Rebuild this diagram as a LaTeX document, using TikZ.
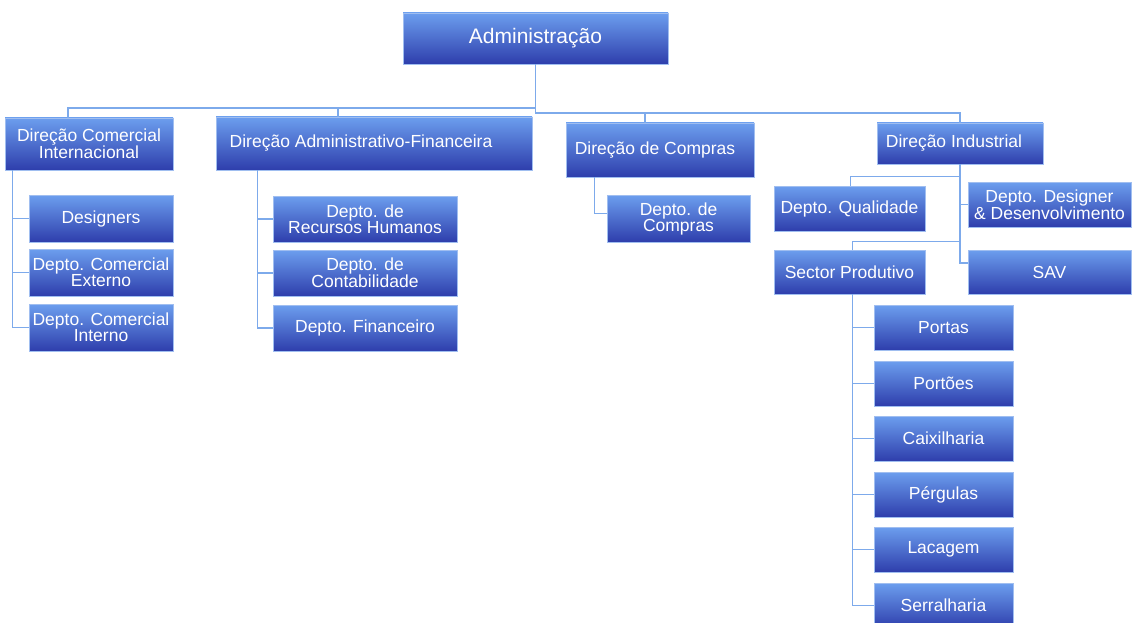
\documentclass[tikz,border=0pt]{standalone}
\usepackage{fontspec}
\setmainfont{Liberation Sans}
\usepackage{tikz}

\definecolor{azulclaro}{RGB}{108,158,238}
\definecolor{azulescuro}{RGB}{46,62,172}
\definecolor{borda}{RGB}{160,190,240}
\definecolor{linha}{RGB}{125,170,235}

\tikzset{
  caixa/.style={rectangle, draw=borda, line width=0.8pt, top color=azulclaro, bottom color=azulescuro,
    text=white, inner sep=0pt, align=center, font=\fontsize{17.5}{16}\selectfont},
  liga/.style={draw=linha, line width=1.6pt}
}

\begin{document}
\begin{tikzpicture}[x=1pt,y=-1pt]
\useasboundingbox (0,0) rectangle (1132,623);

\node[caixa, minimum width=265pt, minimum height=51pt, font=\fontsize{21}{21}\selectfont] (adm) at (535.5,38.5) {Administração};

\node[caixa, minimum width=168pt, minimum height=52pt] (dci) at (89,144) {Direção Comercial\\Internacional};
\node[caixa, minimum width=316pt, minimum height=53pt] (daf) at (374,143.5) {Direção Administrativo-Financeira\hspace*{26pt}};
\node[caixa, minimum width=188pt, minimum height=54pt] (dcomp) at (660,150) {Direção de Compras\hspace*{10pt}};
\node[caixa, minimum width=166pt, minimum height=41pt] (dind) at (960,143.5) {Direção Industrial\hspace*{12pt}};

\node[caixa, minimum width=144pt, minimum height=47pt] (des) at (101,218.5) {Designers};
\node[caixa, minimum width=144pt, minimum height=47pt] (dcext) at (101,272.5) {Depto. Comercial\\Externo};
\node[caixa, minimum width=144pt, minimum height=47pt] (dcint) at (101,327.5) {Depto. Comercial\\Interno};

\node[caixa, minimum width=184pt, minimum height=46pt] (drh) at (365,219) {Depto. de\\Recursos Humanos};
\node[caixa, minimum width=184pt, minimum height=46pt] (dcont) at (365,273) {Depto. de\\Contabilidade};
\node[caixa, minimum width=184pt, minimum height=46pt] (dfin) at (365,328) {Depto. Financeiro};

\node[caixa, minimum width=143pt, minimum height=47pt] (dcp) at (678.5,218.5) {Depto. de\\Compras};

\node[caixa, minimum width=151pt, minimum height=45pt] (qual) at (849.5,208.5) {Depto. Qualidade};
\node[caixa, minimum width=163pt, minimum height=45pt] (ddd) at (1049.5,204.5) {Depto. Designer\\\& Desenvolvimento};
\node[caixa, minimum width=151pt, minimum height=44pt] (sprod) at (849.5,272) {Sector Produtivo};
\node[caixa, minimum width=163pt, minimum height=44pt] (sav) at (1049.5,272) {SAV};

\node[caixa, minimum width=139pt, minimum height=45pt] (portas) at (943.5,327.5) {Portas};
\node[caixa, minimum width=139pt, minimum height=45pt] (portoes) at (943.5,383.5) {Portões};
\node[caixa, minimum width=139pt, minimum height=45pt] (caix) at (943.5,438.5) {Caixilharia};
\node[caixa, minimum width=139pt, minimum height=45pt] (perg) at (943.5,494.5) {Pérgulas};
\node[caixa, minimum width=139pt, minimum height=45pt] (laca) at (943.5,549.5) {Lacagem};
\node[caixa, minimum width=139pt, minimum height=45pt] (serra) at (943.5,605.5) {Serralharia};

\coordinate (busE) at (0,108);
\coordinate (busD) at (0,113);

% administracao -> direcoes
\draw[liga] (adm.south) |- ([xshift=-21pt]dci.north |- busE) -- ([xshift=-21pt]dci.north);
\draw[liga] (adm.south) |- ([xshift=-36pt]daf.north |- busE) -- ([xshift=-36pt]daf.north);
\draw[liga] (adm.south) |- (busD -| dind.north) -- (dind.north);
\draw[liga] ([xshift=-15pt]dcomp.north |- busD) -- ([xshift=-15pt]dcomp.north);

% direcao comercial
\draw[liga] ([xshift=8pt]dci.south west) |- (des.west);
\draw[liga] ([xshift=8pt]dci.south west) |- (dcext.west);
\draw[liga] ([xshift=8pt]dci.south west) |- (dcint.west);

% direcao administrativo-financeira
\draw[liga] ([xshift=42pt]daf.south west) |- (drh.west);
\draw[liga] ([xshift=42pt]daf.south west) |- (dcont.west);
\draw[liga] ([xshift=42pt]daf.south west) |- (dfin.west);

% direcao de compras
\draw[liga] ([xshift=29pt]dcomp.south west) |- ([yshift=5pt]dcp.west);

% direcao industrial
\draw[liga] (dind.south) |- ([yshift=9pt,xshift=1pt]qual.north) -- ([xshift=1pt]qual.north);
\draw[liga] (dind.south) |- (ddd.west);
\draw[liga] (dind.south) |- ([yshift=8pt,xshift=3pt]sprod.north) -- ([xshift=3pt]sprod.north);
\draw[liga] (dind.south) |- ([yshift=9pt]sav.west);

% sector produtivo
\foreach \n in {portas,portoes,caix,perg,laca,serra}
  \draw[liga] ([xshift=3pt]sprod.south) |- (\n.west);
\end{tikzpicture}
\end{document}
